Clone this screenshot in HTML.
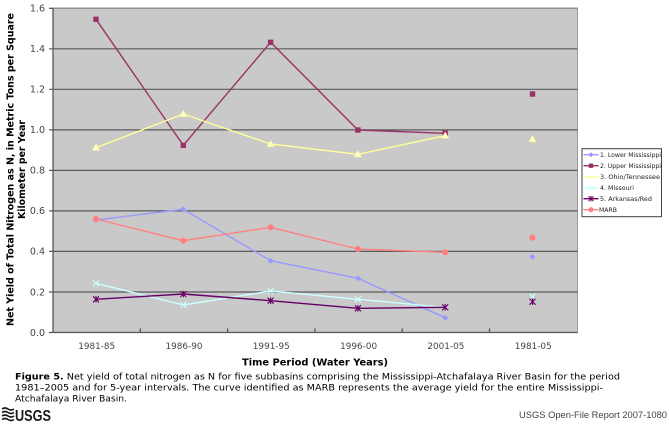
<!DOCTYPE html>
<html><head><meta charset="utf-8"><style>
html,body{margin:0;padding:0;background:#fff;}
svg{display:block;}
</style></head><body>
<svg width="669" height="425" viewBox="0 0 669 425" xmlns="http://www.w3.org/2000/svg">
<rect width="669" height="425" fill="#fff"/>
<!-- plot area -->
<rect x="53" y="8" width="524.5" height="324.5" fill="#C9C9C9" stroke="#9a9a9a" stroke-width="1"/>
<g stroke="#5a5a5a" stroke-width="1.2">
<line x1="53" y1="8.3" x2="577.5" y2="8.3" stroke="#8a8a8a"/>
<line x1="49" y1="48.8" x2="577.5" y2="48.8"/>
<line x1="49" y1="89.3" x2="577.5" y2="89.3"/>
<line x1="49" y1="129.9" x2="577.5" y2="129.9"/>
<line x1="49" y1="170.4" x2="577.5" y2="170.4"/>
<line x1="49" y1="210.9" x2="577.5" y2="210.9"/>
<line x1="49" y1="251.4" x2="577.5" y2="251.4"/>
<line x1="49" y1="292" x2="577.5" y2="292"/>
</g>
<g stroke="#555" stroke-width="1.3">
<line x1="53" y1="8" x2="53" y2="333"/>
<line x1="53" y1="332.5" x2="577.5" y2="332.5"/>
<line x1="49" y1="8.3" x2="53" y2="8.3"/>
<line x1="49" y1="332.5" x2="53" y2="332.5"/>
<line x1="140.3" y1="328.5" x2="140.3" y2="332.5"/>
<line x1="227.6" y1="328.5" x2="227.6" y2="332.5"/>
<line x1="314.9" y1="328.5" x2="314.9" y2="332.5"/>
<line x1="402.2" y1="328.5" x2="402.2" y2="332.5"/>
<line x1="489.5" y1="328.5" x2="489.5" y2="332.5"/>
</g>
<!-- y tick labels -->
<g font-family="DejaVu Sans, Verdana, sans-serif" font-size="9.5" fill="#444" text-anchor="end">
<text x="45" y="11.6">1.6</text>
<text x="45" y="52.1">1.4</text>
<text x="45" y="92.6">1.2</text>
<text x="45" y="133.2">1.0</text>
<text x="45" y="173.7">0.8</text>
<text x="45" y="214.2">0.6</text>
<text x="45" y="254.7">0.4</text>
<text x="45" y="295.3">0.2</text>
<text x="45" y="335.8">0.0</text>
</g>
<!-- x category labels -->
<g font-family="DejaVu Sans, Verdana, sans-serif" font-size="9" fill="#444" text-anchor="middle">
<text x="96.7" y="349" textLength="37" lengthAdjust="spacingAndGlyphs">1981-85</text>
<text x="184" y="349" textLength="37" lengthAdjust="spacingAndGlyphs">1986-90</text>
<text x="271.3" y="349" textLength="37" lengthAdjust="spacingAndGlyphs">1991-95</text>
<text x="358.6" y="349" textLength="37" lengthAdjust="spacingAndGlyphs">1996-00</text>
<text x="445.9" y="349" textLength="37" lengthAdjust="spacingAndGlyphs">2001-05</text>
<text x="533.2" y="349" textLength="37" lengthAdjust="spacingAndGlyphs">1981-05</text>
</g>
<text x="315" y="365.5" font-family="DejaVu Sans, Verdana, sans-serif" font-weight="bold" font-size="9.6" fill="#000" text-anchor="middle" textLength="146" lengthAdjust="spacingAndGlyphs">Time Period (Water Years)</text>
<!-- y axis title -->
<g font-family="DejaVu Sans, Verdana, sans-serif" font-weight="bold" font-size="9.3" fill="#000" text-anchor="middle">
<text transform="translate(13.5,169.5) rotate(-90)" textLength="313" lengthAdjust="spacingAndGlyphs">Net Yield of Total Nitrogen as N, in Metric Tons per Square</text>
<text transform="translate(25,169.5) rotate(-90)" textLength="99" lengthAdjust="spacingAndGlyphs">Kilometer per Year</text>
</g>
<!-- series lines -->
<g fill="none" stroke-width="1.4" stroke-linejoin="round">
<polyline points="96,220 183.3,209.3 270.6,260.7 357.9,278.3 445.2,317.7" stroke="#9999FF"/>
<polyline points="96,19.3 183.3,145.3 270.6,42.3 357.9,130 445.2,133.3" stroke="#993366"/>
<polyline points="96,147.7 183.3,114 270.6,144 357.9,154.3 445.2,135.7" stroke="#FFFF99"/>
<polyline points="96,283.3 183.3,305 270.6,291 357.9,299.3 445.2,307.3" stroke="#CCFFFF"/>
<polyline points="96,299.3 183.3,294 270.6,300.7 357.9,308.3 445.2,307.3" stroke="#660066"/>
<polyline points="96,219 183.3,240.7 270.6,227.3 357.9,249 445.2,252.3" stroke="#FF8080"/>
</g>
<!-- markers: lower miss diamonds -->
<g fill="#9999FF">
<polygon points="96,217 99,220 96,223 93,220"/>
<polygon points="183.3,206.3 186.3,209.3 183.3,212.3 180.3,209.3"/>
<polygon points="270.6,257.7 273.6,260.7 270.6,263.7 267.6,260.7"/>
<polygon points="357.9,275.3 360.9,278.3 357.9,281.3 354.9,278.3"/>
<polygon points="445.2,314.7 448.2,317.7 445.2,320.7 442.2,317.7"/>
<polygon points="532.5,254 535.5,257 532.5,260 529.5,257"/>
</g>
<!-- upper miss squares -->
<g fill="#993366">
<rect x="93.3" y="16.6" width="5.4" height="5.4"/>
<rect x="180.6" y="142.6" width="5.4" height="5.4"/>
<rect x="267.9" y="39.6" width="5.4" height="5.4"/>
<rect x="355.2" y="127.3" width="5.4" height="5.4"/>
<rect x="442.5" y="130.6" width="5.4" height="5.4"/>
<rect x="529.8" y="91.3" width="5.4" height="5.4"/>
</g>
<!-- ohio triangles -->
<g fill="#FFFFCC" stroke="#FFFF99" stroke-width="0.6">
<polygon points="96,144.2 99.5,150.2 92.5,150.2"/>
<polygon points="183.3,110.5 186.8,116.5 179.8,116.5"/>
<polygon points="270.6,140.5 274.1,146.5 267.1,146.5"/>
<polygon points="357.9,150.8 361.4,156.8 354.4,156.8"/>
<polygon points="445.2,132.2 448.7,138.2 441.7,138.2"/>
<polygon points="532.5,135.8 536,141.8 529,141.8"/>
</g>
<!-- missouri x -->
<g stroke="#CCFFFF" stroke-width="1.1">
<path d="M93,280.3L99,286.3M93,286.3L99,280.3"/>
<path d="M180.3,302L186.3,308M180.3,308L186.3,302"/>
<path d="M267.6,288L273.6,294M267.6,294L273.6,288"/>
<path d="M354.9,296.3L360.9,302.3M354.9,302.3L360.9,296.3"/>
<path d="M442.2,304.3L448.2,310.3M442.2,310.3L448.2,304.3"/>
<path d="M529.5,293.7L535.5,299.7M529.5,299.7L535.5,293.7"/>
</g>
<!-- arkansas asterisks -->
<g stroke="#660066" stroke-width="1.1">
<path d="M93,296.3L99,302.3M93,302.3L99,296.3M96,296L96,302.6"/>
<path d="M180.3,291L186.3,297M180.3,297L186.3,291M183.3,290.7L183.3,297.3"/>
<path d="M267.6,297.7L273.6,303.7M267.6,303.7L273.6,297.7M270.6,297.4L270.6,304"/>
<path d="M354.9,305.3L360.9,311.3M354.9,311.3L360.9,305.3M357.9,305L357.9,311.6"/>
<path d="M442.2,304.3L448.2,310.3M442.2,310.3L448.2,304.3M445.2,304L445.2,310.6"/>
<path d="M529.5,298.7L535.5,304.7M529.5,304.7L535.5,298.7M532.5,298.4L532.5,305"/>
</g>
<!-- MARB circles -->
<g fill="#FF8080">
<circle cx="96" cy="219" r="3.1"/>
<circle cx="183.3" cy="240.7" r="3.1"/>
<circle cx="270.6" cy="227.3" r="3.1"/>
<circle cx="357.9" cy="249" r="3.1"/>
<circle cx="445.2" cy="252.3" r="3.1"/>
<circle cx="532.5" cy="237.7" r="3.1"/>
</g>
<!-- legend -->
<rect x="582" y="148.7" width="79.5" height="68" fill="#fff" stroke="#404040" stroke-width="1"/>
<g stroke-width="1.4">
<line x1="583.5" y1="154.7" x2="598.5" y2="154.7" stroke="#9999FF"/>
<line x1="583.5" y1="165.7" x2="598.5" y2="165.7" stroke="#993366"/>
<line x1="583.5" y1="176.7" x2="598.5" y2="176.7" stroke="#FFFF99"/>
<line x1="583.5" y1="187.7" x2="598.5" y2="187.7" stroke="#CCFFFF"/>
<line x1="583.5" y1="198.7" x2="598.5" y2="198.7" stroke="#660066"/>
<line x1="583.5" y1="209.7" x2="598.5" y2="209.7" stroke="#FF8080"/>
</g>
<polygon points="591,152.2 593.5,154.7 591,157.2 588.5,154.7" fill="#9999FF"/>
<rect x="588.8" y="163.5" width="4.4" height="4.4" fill="#993366"/>
<polygon points="591,173.8 594,178.8 588,178.8" fill="#FFFFCC"/>
<path d="M588.5,185.2L593.5,190.2M588.5,190.2L593.5,185.2" stroke="#CCFFFF" stroke-width="1"/>
<path d="M588.5,196.2L593.5,201.2M588.5,201.2L593.5,196.2M591,196L591,201.4" stroke="#660066" stroke-width="1"/>
<circle cx="591" cy="209.7" r="2.5" fill="#FF8080"/>
<g font-family="DejaVu Sans, Verdana, sans-serif" font-size="6.1" fill="#222">
<text x="600" y="156.9" textLength="61" lengthAdjust="spacingAndGlyphs">1. Lower Mississippi</text>
<text x="600" y="167.9" textLength="61" lengthAdjust="spacingAndGlyphs">2. Upper Mississippi</text>
<text x="600" y="178.9" textLength="60" lengthAdjust="spacingAndGlyphs">3. Ohio/Tennessee</text>
<text x="600" y="189.9" textLength="34" lengthAdjust="spacingAndGlyphs">4. Missouri</text>
<text x="600" y="200.9" textLength="52" lengthAdjust="spacingAndGlyphs">5. Arkansas/Red</text>
<text x="599" y="211.9" textLength="18" lengthAdjust="spacingAndGlyphs">MARB</text>
</g>
<!-- caption -->
<g font-family="DejaVu Sans, Verdana, sans-serif" font-size="8.5" fill="#000">
<text x="15" y="379.5" textLength="605" lengthAdjust="spacingAndGlyphs"><tspan font-weight="bold">Figure 5.</tspan> Net yield of total nitrogen as N for five subbasins comprising the Mississippi-Atchafalaya River Basin for the period</text>
<text x="15" y="390.5" textLength="588" lengthAdjust="spacingAndGlyphs">1981–2005 and for 5-year intervals. The curve identified as MARB represents the average yield for the entire Mississippi-</text>
<text x="15" y="401.5" textLength="112" lengthAdjust="spacingAndGlyphs">Atchafalaya River Basin.</text>
</g>
<!-- USGS logo -->
<g stroke="#1a1a1a" stroke-width="1.6" fill="none">
<path d="M2,409 q3,-2 6,0 t6,0"/>
<path d="M2,412.5 q3,-2 6,0 t6,0"/>
<path d="M2,416 q3,-2 6,0 t6,0"/>
<path d="M2,419.5 q3,-2 6,0 t6,0"/>
</g>
<text x="15" y="421" font-family="Liberation Sans Narrow, Liberation Sans, sans-serif" font-weight="bold" font-size="16" fill="#1a1a1a" textLength="36" lengthAdjust="spacingAndGlyphs">USGS</text>
<text x="519" y="418" font-family="Liberation Sans Narrow, Liberation Sans, sans-serif" font-size="9.5" fill="#444" textLength="148" lengthAdjust="spacingAndGlyphs">USGS Open-File Report 2007-1080</text>
</svg>
</body></html>
